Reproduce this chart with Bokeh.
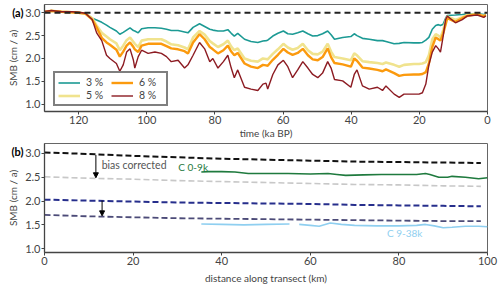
from bokeh.plotting import figure
from bokeh.layouts import column
from bokeh.models import (Range1d, Legend, LegendItem, Label, Arrow, NormalHead,
                          Span, PrintfTickFormatter, FixedTicker, LinearAxis)
from bokeh.embed import file_html
from bokeh.resources import INLINE

nan = float("nan")

# ---------------- panel (a) data ----------------
time_ka = [130, 128, 125, 122, 120, 118, 116, 114.7, 113.2, 111.8, 110.8, 108.9, 107.9, 106.9,
           105.9, 104.9, 103.9, 103.5, 102.5, 101.5, 99.6, 97.6, 95.7, 94.2, 92.8, 90.8, 88.9,
           87.9, 86.4, 84.5, 83, 81.5, 80.6, 79.1, 77.5, 76.2, 75.2, 74.3, 73.3, 71.3, 69.4,
           67.4, 65.9, 65, 64.5, 63, 61.5, 59.9, 58.6, 57.2, 55.7, 54.2, 52.7, 51.3, 49.8,
           48.4, 46.9, 45.9, 44.9, 42.5, 40.1, 39.1, 38.3, 36.7, 34.7, 32.3, 30.8, 29.8, 27.4,
           25.9, 24.5, 21.6, 20.1, 19.1, 18.1, 17.2, 16.2, 15.2, 14.4, 13.8, 13, 12.3, 11.8,
           9.4, 7.4, 5.9, 3, 1.1, 0.5]

smb_3 = [3.02, 3.04, 3.02, 3.01, 3.00, 2.99, 2.88, 2.84, 2.79, 2.73, 2.68, 2.60, 2.53, 2.57,
         2.62, 2.67, 2.61, 2.60, 2.56, 2.65, 2.67, 2.67, 2.66, 2.64, 2.61, 2.61, 2.58,
         2.56, 2.68, 2.76, 2.70, 2.64, 2.62, 2.60, 2.60, 2.63, 2.55, 2.49, 2.55, 2.42, 2.37,
         2.35, 2.38, 2.39, 2.40, 2.49, 2.55, 2.60, 2.54, 2.53, 2.56, 2.60, 2.54, 2.49, 2.50,
         2.54, 2.60, 2.52, 2.42, 2.46, 2.48, 2.54, 2.50, 2.44, 2.42, 2.39, 2.39, 2.37, 2.32,
         2.33, 2.35, 2.34, 2.34, 2.35, 2.40, 2.46, 2.64, 2.72, 2.74, 2.72, 2.75, 2.88, 2.94,
         2.95, 2.96, 2.97, 2.98, 2.96, 2.97]

smb_5 = [3.02, 3.04, 3.02, 3.01, 3.00, 2.98, 2.88, 2.72, 2.56, 2.48, 2.42, 2.33, 2.18, 2.28,
         2.40, 2.46, 2.36, 2.32, 2.25, 2.39, 2.42, 2.42, 2.42, 2.37, 2.31, 2.29, 2.24,
         2.20, 2.46, 2.60, 2.52, 2.38, 2.33, 2.25, 2.31, 2.39, 2.26, 2.18, 2.22, 2.00, 1.95,
         1.93, 2.00, 1.99, 1.98, 2.10, 2.20, 2.32, 2.24, 2.19, 2.23, 2.32, 2.18, 2.10, 2.09,
         2.15, 2.32, 2.15, 2.03, 2.00, 1.96, 2.11, 2.07, 1.94, 1.92, 1.90, 1.88, 1.91, 1.86,
         1.82, 1.86, 1.88, 1.88, 1.89, 1.92, 2.07, 2.42, 2.53, 2.50, 2.46, 2.62, 2.81, 2.92,
         2.84, 2.90, 2.95, 2.97, 2.93, 2.95]

smb_6 = [3.02, 3.04, 3.02, 3.01, 3.00, 2.98, 2.85, 2.68, 2.45, 2.35, 2.30, 2.19, 2.04, 2.15,
         2.28, 2.35, 2.25, 2.20, 2.14, 2.28, 2.32, 2.32, 2.32, 2.27, 2.22, 2.20, 2.16,
         2.11, 2.35, 2.53, 2.42, 2.25, 2.20, 2.11, 2.18, 2.28, 2.15, 2.07, 2.12, 1.89, 1.82,
         1.79, 1.86, 1.85, 1.84, 1.97, 2.08, 2.21, 2.13, 2.08, 2.12, 2.21, 2.07, 1.98, 1.96,
         2.03, 2.22, 2.03, 1.90, 1.87, 1.82, 2.00, 1.95, 1.80, 1.78, 1.75, 1.72, 1.76, 1.68,
         1.62, 1.64, 1.65, 1.65, 1.66, 1.70, 1.89, 2.25, 2.46, 2.42, 2.39, 2.55, 2.74, 2.88,
         2.80, 2.88, 2.93, 2.97, 2.92, 2.95]

smb_8 = [3.03, 3.05, 3.02, 3.02, 3.01, 2.99, 2.85, 2.56, 2.39, 2.07, 2.00, 1.89, 1.72, 1.86,
         2.14, 2.21, 1.96, 1.79, 2.04, 2.18, 2.11, 2.14, 2.11, 2.04, 1.93, 1.96, 1.79,
         1.86, 2.07, 2.35, 2.21, 1.93, 2.00, 1.79, 1.93, 2.07, 1.79, 1.58, 1.75, 1.37, 1.33,
         1.30, 1.44, 1.46, 1.33, 1.65, 1.86, 1.96, 1.82, 1.58, 1.75, 1.93, 1.79, 1.65, 1.58,
         1.68, 1.93, 1.79, 1.54, 1.51, 1.37, 1.65, 1.75, 1.40, 1.33, 1.37, 1.30, 1.40, 1.22,
         1.15, 1.22, 1.22, 1.22, 1.25, 1.44, 1.86, 2.14, 2.28, 2.21, 2.14, 2.49, 2.85, 2.93,
         2.78, 2.85, 2.93, 2.95, 2.90, 2.93]

ref_smb = 3.0
time_ticks = [120, 100, 80, 60, 40, 20, 0]
smb_ticks = [1.0, 1.5, 2.0, 2.5, 3.0]
series_labels = ["3 %", "5 %", "6 %", "8 %"]

# ---------------- panel (b) data ----------------
dist_model = [0, 10, 20, 30, 40, 50, 60, 70, 80, 90, 98.5]
model_black = [3.02, 2.99, 2.95, 2.92, 2.89, 2.87, 2.85, 2.83, 2.82, 2.81, 2.80]
model_black_corr = [2.51, 2.48, 2.46, 2.43, 2.41, 2.39, 2.37, 2.35, 2.34, 2.32, 2.31]
model_blue = [2.03, 2.01, 1.99, 1.97, 1.96, 1.95, 1.94, 1.92, 1.91, 1.90, 1.89]
model_blue_corr = [1.71, 1.68, 1.66, 1.64, 1.63, 1.62, 1.61, 1.60, 1.59, 1.58, 1.58]

dist_c09 = [35.4, 37, 40, 43, 46, 50, 55, 60, 64, 66, 68, 72, 76, 80, 84, 86, 87, 89, 91, 92,
            95, 98, 100]
smb_c09 = [2.61, 2.62, 2.62, 2.61, 2.58, 2.58, 2.58, 2.57, 2.58, 2.56, 2.54, 2.55, 2.56, 2.56,
           2.56, 2.58, 2.56, 2.50, 2.50, 2.52, 2.50, 2.47, 2.49]

dist_c938 = [35.4, 40, 45, 50, 55.3, 56.2, 57.5, 60, 62, 64.5, 67, 70, 75, 80, 84, 86, 88, 90,
             92, 95, 98, 100]
smb_c938 = [1.52, 1.51, 1.50, 1.51, 1.52, nan, 1.51, 1.49, 1.47, 1.54, 1.51, 1.49, 1.48, 1.48,
            1.49, 1.51, 1.48, 1.44, 1.45, 1.47, 1.47, 1.46]

dist_ticks = [0, 20, 40, 60, 80, 100]
panel_labels = ["(a)", "(b)"]
panel_label_y = [3.0, 3.05]

FONT = "Lato"
TXT = "#444444"


def style(p, tag, tag_y):
    p.xgrid.visible = False
    p.ygrid.visible = False
    p.outline_line_color = "#666666"
    p.outline_line_width = 1
    p.background_fill_color = "white"
    p.border_fill_color = "white"
    for ax in p.axis:
        ax.axis_line_color = "#444444"
        ax.axis_line_width = 1.3
        ax.major_tick_line_color = "#444444"
        ax.major_tick_out = 3
        ax.major_tick_in = 0
        ax.minor_tick_line_color = None
        ax.major_label_text_font = FONT
        ax.major_label_text_font_size = "11px"
        ax.major_label_text_color = TXT
        ax.major_label_standoff = 1
        ax.axis_label_text_font = FONT
        ax.axis_label_text_font_size = "10px"
        ax.axis_label_text_font_style = "normal"
        ax.axis_label_text_color = TXT
        ax.axis_label_standoff = 0
    p.yaxis.ticker = FixedTicker(ticks=smb_ticks)
    p.yaxis.formatter = PrintfTickFormatter(format="%.1f")
    # outer left axis carrying the panel tag and the y label
    outer = LinearAxis(ticker=FixedTicker(ticks=[tag_y]),
                       major_label_overrides={tag_y: tag},
                       axis_label="SMB (cm / a)")
    outer.axis_line_color = None
    outer.major_tick_line_color = None
    outer.minor_tick_line_color = None
    outer.major_tick_out = 0
    outer.major_tick_in = 0
    outer.major_label_standoff = -1
    outer.major_label_text_font = FONT
    outer.major_label_text_font_size = "11px"
    outer.major_label_text_font_style = "bold"
    outer.major_label_text_color = "black"
    outer.axis_label_text_font = FONT
    outer.axis_label_text_font_size = "10px"
    outer.axis_label_text_font_style = "normal"
    outer.axis_label_text_color = TXT
    outer.axis_label_standoff = -10
    p.add_layout(outer, "left")


# ---------------- panel (a) ----------------
p1 = figure(width=500, height=141, x_range=Range1d(130, 0), y_range=Range1d(0.84, 3.18),
            output_backend="svg", toolbar_location=None,
            min_border_left=44, min_border_right=13, min_border_top=4, min_border_bottom=26)
style(p1, panel_labels[0], panel_label_y[0])
p1.xaxis.ticker = FixedTicker(ticks=time_ticks)
p1.xaxis.axis_label = "time (ka BP)"

p1.add_layout(Span(location=ref_smb, dimension="width", line_color="#222222",
                   line_width=1.8, line_dash="6 4"))

r3 = p1.line(time_ka, smb_3, line_color="#1c9a94", line_width=1.6)
r5 = p1.line(time_ka, smb_5, line_color="#f0e38e", line_width=2.6)
r6 = p1.line(time_ka, smb_6, line_color="#fb9a0e", line_width=2.4)
r8 = p1.line(time_ka, smb_8, line_color="#8c1b22", line_width=1.4)

legend = Legend(items=[LegendItem(label=series_labels[0], renderers=[r3]),
                       LegendItem(label=series_labels[2], renderers=[r6]),
                       LegendItem(label=series_labels[1], renderers=[r5]),
                       LegendItem(label=series_labels[3], renderers=[r8])],
                ncols=2, location=(9, 5), orientation="horizontal")
legend.border_line_color = "black"
legend.border_line_width = 2
legend.background_fill_alpha = 1
legend.label_text_font = FONT
legend.label_text_font_size = "10.5px"
legend.label_text_line_height = 1.0
legend.label_text_color = TXT
legend.glyph_width = 22
legend.glyph_height = 11
legend.label_height = 11
legend.label_width = 24
legend.label_standoff = 6
legend.spacing = 1
legend.padding = 3
legend.margin = 0
p1.add_layout(legend, "center")

# ---------------- panel (b) ----------------
p2 = figure(width=500, height=147, x_range=Range1d(0, 100), y_range=Range1d(0.92, 3.21),
            output_backend="svg", toolbar_location=None,
            min_border_left=44, min_border_right=11, min_border_top=2, min_border_bottom=36)
style(p2, panel_labels[1], panel_label_y[1])
p2.xaxis.ticker = FixedTicker(ticks=dist_ticks)
p2.xaxis.axis_label = "distance along transect (km)"
p2.xaxis.axis_label_standoff = 4

p2.line(dist_model, model_black, line_color="#111111", line_width=2, line_dash="6 3")
p2.line(dist_model, model_black_corr, line_color="#c8c8c8", line_width=1.6, line_dash="6 3")
p2.line(dist_model, model_blue, line_color="#262e8c", line_width=2, line_dash="6 3")
p2.line(dist_model, model_blue_corr, line_color="#4c4b78", line_width=1.8, line_dash="6 3")
p2.line(dist_c09, smb_c09, line_color="#1f7a3e", line_width=1.6)
p2.line(dist_c938, smb_c938, line_color="#8fcff0", line_width=1.6)

p2.add_layout(Arrow(end=NormalHead(size=5, fill_color="black", line_color="black"),
                    x_start=11.6, y_start=2.97, x_end=11.6, y_end=2.49,
                    line_color="black", line_width=1))
p2.add_layout(Arrow(end=NormalHead(size=5, fill_color="black", line_color="black"),
                    x_start=13.0, y_start=2.01, x_end=13.0, y_end=1.69,
                    line_color="black", line_width=1))

p2.add_layout(Label(x=12.9, y=2.75, text="bias corrected", text_font=FONT,
                    text_font_size="10.5px", text_color="#555555",
                    text_baseline="middle", text_align="left"))
p2.add_layout(Label(x=36.9, y=2.72, text="C 0-9k", text_font=FONT,
                    text_font_size="10px", text_color="#1f7a3e",
                    text_baseline="middle", text_align="right"))
p2.add_layout(Label(x=77.3, y=1.32, text="C 9-38k", text_font=FONT,
                    text_font_size="10px", text_color="#8fcff0",
                    text_baseline="middle", text_align="left"))

layout = column(p1, p2, spacing=0)
open("out.html", "w").write(file_html(layout, INLINE))
